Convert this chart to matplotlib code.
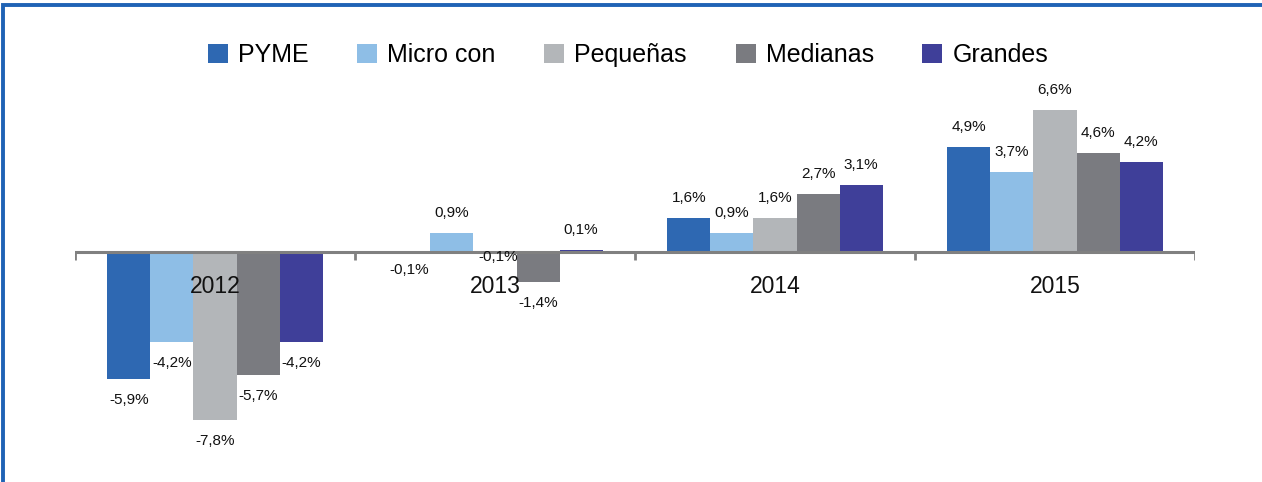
import matplotlib
matplotlib.use("Agg")
import matplotlib.pyplot as plt
from matplotlib.patches import Rectangle
import numpy as np

plt.rcParams['font.family'] = ['Liberation Sans', 'DejaVu Sans']

years = ["2012", "2013", "2014", "2015"]
series_names = ["PYME", "Micro con", "Pequeñas", "Medianas", "Grandes"]
pyme = [-5.9, -0.1, 1.6, 4.9]
micro = [-4.2, 0.9, 0.9, 3.7]
pequenas = [-7.8, -0.1, 1.6, 6.6]
medianas = [-5.7, -1.4, 2.7, 4.6]
grandes = [-4.2, 0.1, 3.1, 4.2]
colors = ["#2E68B2", "#8EBEE6", "#B3B6B9", "#7A7B80", "#3F3F99"]

series = [pyme, micro, pequenas, medianas, grandes]

W, H = 1262, 482
fig = plt.figure(figsize=(W / 100, H / 100), dpi=100)
# axes: x from 75px to 1195px, y from 70px to 470px (top-origin)
ax = fig.add_axes([75 / W, 1 - 470 / H, (1195 - 75) / W, 400 / H])
scale = 21.5
ax.set_xlim(-0.5, len(years) - 0.5)
ax.set_ylim(-(470 - 252) / scale, (252 - 70) / scale)
ax.axis('off')

x = np.arange(len(years))
bw = 0.1536
for k, (name, vals, c) in enumerate(zip(series_names, series, colors)):
    pos = x + (k - 2) * bw
    ax.bar(pos, vals, width=bw, color=c, label=name, edgecolor='none', zorder=2)
    for j, (p, v) in enumerate(zip(pos, vals)):
        lab = f"{v:.1f}%".replace('.', ',')
        off = 20 if v > 0 else -21
        if name == "Pequeñas" and years[j] == "2013":
            off = -3
            p = p + 0.01
        elif v < 0 and v > -0.5:
            off = -16
        ax.annotate(lab, (p, v), xytext=(0, off * 0.72), textcoords='offset points',
                    ha='center', va='center', fontsize=11, color='#111111', zorder=4)

# axis line and tick marks
ax.axhline(0, color='#808080', lw=2.2, zorder=3)
bounds = np.arange(len(years) + 1) - 0.5
ax.vlines(bounds, -8 / scale, 0, color='#808080', lw=2, zorder=3)

for i, y in enumerate(years):
    ax.annotate(y, (i, 0), xytext=(0, -35 * 0.72), textcoords='offset points',
                ha='center', va='center', fontsize=16.5, color='#111111', zorder=5)

handles, labels = ax.get_legend_handles_labels()
fig.legend(handles, labels, loc='center', bbox_to_anchor=(628 / W, 1 - 55 / H), ncol=5,
           frameon=False, fontsize=18, handlelength=0.8, handleheight=0.8,
           handletextpad=0.4, columnspacing=1.95)

# blue frame
fig.patches.append(Rectangle((3 / W, -0.1), 1.2, 1.1 - 5 / H, transform=fig.transFigure,
                             fill=False, edgecolor='#1F63B5', lw=2.8, zorder=10))

fig.savefig("out.png", dpi=100, facecolor='white')
